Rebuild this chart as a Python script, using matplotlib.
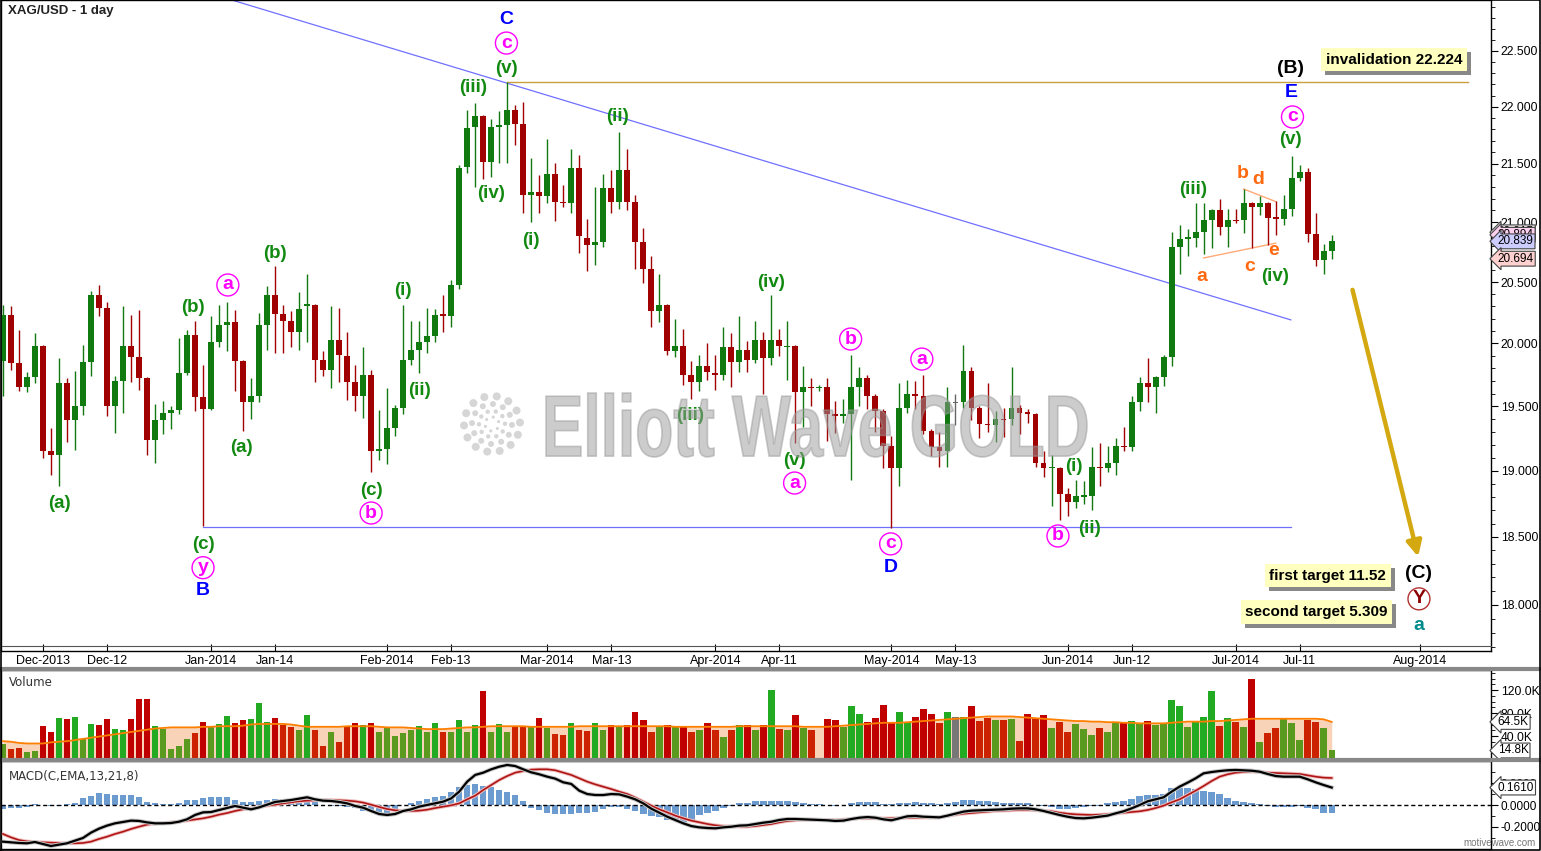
import numpy as np
import pandas as pd
import matplotlib
matplotlib.use("Agg")
import matplotlib.pyplot as plt
import matplotlib.patheffects as pe
from matplotlib.patches import PathPatch, Circle, Rectangle
from matplotlib.lines import Line2D
from matplotlib.textpath import TextPath
from matplotlib.font_manager import FontProperties
from matplotlib.transforms import Affine2D, IdentityTransform, blended_transform_factory
from matplotlib.ticker import FixedLocator, FixedFormatter, NullFormatter

plt.rcParams['font.family'] = ['Liberation Sans', 'DejaVu Sans']

# trading days (holidays 25 Dec / 1 Jan are missing in the feed)
days = pd.bdate_range('2013-11-25', '2014-08-29')
days = days[~days.isin(pd.to_datetime(['2013-12-25', '2014-01-01']))]

opens = [19.86, 20.23, 19.84, 19.65, 19.73, 19.98, 19.15, 19.12, 19.68, 19.39,
 19.50, 19.85, 20.39, 20.29, 19.50, 19.70, 19.98, 19.89, 19.72, 19.24,
 19.39, 19.45, 19.47, 19.76, 20.07, 19.57, 19.48, 20.01, 20.15, 20.17,
 19.86, 19.53, 19.58, 20.15, 20.39, 20.24, 20.18, 20.09, 20.30, 20.31,
 19.87, 19.79, 20.03, 19.90, 19.69, 19.58, 19.75, 19.15, 19.17, 19.33,
 19.49, 19.87, 19.95, 20.01, 20.06, 20.24, 20.22, 20.48, 21.47, 21.82,
 21.92, 21.52, 21.82, 21.84, 21.97, 21.85, 21.23, 21.26, 21.22, 21.41,
 21.17, 21.16, 21.46, 20.87, 20.81, 20.83, 21.29, 21.17, 21.45, 21.17,
 20.83, 20.61, 20.26, 20.31, 19.94, 19.98, 19.75, 19.69, 19.82, 19.76,
 19.75, 19.97, 19.85, 19.95, 19.87, 20.03, 19.88, 20.03, 19.97, 19.98,
 19.61, 19.65, 19.64, 19.65, 19.44, 19.42, 19.44, 19.65, 19.72, 19.58,
 19.46, 19.19, 19.02, 19.49, 19.60, 19.58, 19.31, 19.18, 19.15, 19.525,
 19.53, 19.78, 19.49, 19.36, 19.35, 19.40, 19.40, 19.49, 19.45, 19.44,
 19.06, 19.02, 19.02, 18.82, 18.76, 18.80, 18.81, 19.03, 19.02, 19.06,
 19.19, 19.18, 19.53, 19.68, 19.65, 19.73, 19.89, 20.79, 20.86, 20.87,
 20.92, 21.02, 21.10, 20.96, 21.02, 21.02, 21.16, 21.13, 21.16, 21.04,
 21.03, 21.11, 21.38, 21.43, 20.90, 20.68, 20.76]
highs = [20.31, 20.30, 20.11, 19.77, 20.08, 19.99, 19.33, 19.88, 19.72, 19.78,
 19.99, 20.43, 20.48, 20.34, 19.74, 20.30, 20.23, 20.27, 19.73, 19.52,
 19.54, 19.50, 20.04, 20.11, 20.18, 19.83, 20.22, 20.31, 20.34, 20.27,
 19.87, 19.72, 20.25, 20.47, 20.63, 20.31, 20.26, 20.42, 20.57, 20.32,
 19.94, 20.30, 20.29, 20.09, 19.83, 19.97, 19.79, 19.47, 19.64, 19.51,
 20.31, 20.18, 20.18, 20.29, 20.28, 20.39, 20.52, 21.49, 21.97, 22.03,
 21.93, 21.89, 21.96, 22.224, 22.02, 22.04, 21.55, 21.40, 21.72, 21.51,
 21.32, 21.63, 21.58, 21.03, 21.30, 21.41, 21.45, 21.78, 21.63, 21.23,
 20.95, 20.72, 20.57, 20.32, 20.20, 20.12, 19.86, 19.91, 20.00, 19.91,
 20.13, 20.08, 20.22, 20.02, 20.18, 20.09, 20.39, 20.12, 20.18, 19.99,
 19.82, 19.72, 19.67, 19.72, 19.54, 19.56, 19.91, 19.81, 19.75, 19.60,
 19.48, 19.27, 19.68, 19.71, 19.70, 19.75, 19.32, 19.30, 19.65, 19.60,
 19.99, 19.81, 19.50, 19.68, 19.46, 19.49, 19.81, 19.51, 19.48, 19.45,
 19.15, 19.12, 19.03, 18.87, 18.93, 18.92, 19.18, 19.21, 19.19, 19.25,
 19.34, 19.58, 19.73, 19.88, 19.74, 19.91, 20.92, 20.98, 20.94, 21.16,
 21.16, 21.11, 21.20, 21.11, 21.11, 21.28, 21.17, 21.22, 21.17, 21.18,
 21.23, 21.57, 21.49, 21.46, 21.08, 20.82, 20.894]
lows = [19.58, 19.79, 19.62, 19.61, 19.68, 19.10, 18.97, 18.88, 19.22, 19.16,
 19.43, 19.74, 20.22, 19.42, 19.29, 19.45, 19.69, 19.63, 19.12, 19.06,
 19.28, 19.32, 19.44, 19.75, 19.46, 18.58, 19.47, 19.97, 19.94, 19.62,
 19.31, 19.40, 19.53, 19.95, 19.92, 19.92, 19.97, 19.95, 20.01, 19.69,
 19.74, 19.64, 19.69, 19.55, 19.46, 19.41, 18.99, 19.08, 19.05, 19.27,
 19.44, 19.83, 19.76, 19.92, 20.01, 20.09, 20.13, 20.44, 21.42, 21.30,
 21.37, 21.39, 21.51, 21.51, 21.66, 21.08, 21.00, 21.08, 21.16, 21.01,
 21.13, 21.08, 20.74, 20.59, 20.64, 20.79, 21.08, 21.11, 21.10, 20.61,
 20.49, 20.13, 20.17, 19.91, 19.89, 19.67, 19.56, 19.62, 19.71, 19.63,
 19.71, 19.65, 19.77, 19.77, 19.84, 19.60, 19.83, 19.90, 19.71, 19.21,
 19.34, 19.50, 19.62, 19.23, 19.29, 19.37, 18.93, 19.50, 19.48, 19.30,
 19.02, 18.57, 18.88, 19.45, 19.48, 19.28, 19.11, 19.03, 19.03, 19.35,
 19.49, 19.39, 19.25, 19.30, 19.22, 19.26, 19.35, 19.28, 19.37, 19.03,
 18.95, 18.73, 18.63, 18.66, 18.72, 18.75, 18.70, 18.88, 18.99, 18.97,
 19.15, 19.15, 19.46, 19.53, 19.45, 19.66, 19.82, 20.57, 20.72, 20.79,
 20.73, 20.78, 20.89, 20.79, 20.99, 20.91, 20.78, 21.06, 20.81, 20.89,
 20.98, 21.05, 21.35, 20.83, 20.63, 20.57, 20.694]
closes = [20.23, 19.84, 19.65, 19.73, 19.98, 19.15, 19.12, 19.68, 19.39, 19.50,
 19.85, 20.39, 20.29, 19.50, 19.70, 19.98, 19.89, 19.72, 19.24, 19.39,
 19.45, 19.47, 19.76, 20.07, 19.57, 19.48, 20.01, 20.15, 20.17, 19.86,
 19.53, 19.58, 20.15, 20.39, 20.24, 20.18, 20.09, 20.28, 20.32, 19.87,
 19.79, 20.03, 19.91, 19.69, 19.58, 19.75, 19.15, 19.17, 19.33, 19.49,
 19.87, 19.95, 20.01, 20.06, 20.23, 20.22, 20.48, 21.46, 21.81, 21.92,
 21.52, 21.82, 21.84, 21.97, 21.85, 21.23, 21.26, 21.22, 21.41, 21.17,
 21.16, 21.46, 20.88, 20.81, 20.83, 21.29, 21.17, 21.45, 21.17, 20.83,
 20.61, 20.26, 20.31, 19.94, 19.98, 19.75, 19.69, 19.82, 19.77, 19.75,
 19.97, 19.85, 19.95, 19.87, 20.03, 19.88, 20.03, 19.98, 19.98, 19.61,
 19.65, 19.64, 19.65, 19.44, 19.42, 19.44, 19.65, 19.72, 19.58, 19.46,
 19.19, 19.02, 19.49, 19.60, 19.58, 19.31, 19.18, 19.15, 19.53, 19.525,
 19.78, 19.49, 19.36, 19.35, 19.40, 19.39, 19.49, 19.45, 19.44, 19.06,
 19.02, 19.03, 18.82, 18.76, 18.81, 18.81, 19.03, 19.02, 19.06, 19.19,
 19.18, 19.53, 19.68, 19.65, 19.73, 19.89, 20.79, 20.86, 20.87, 20.92,
 21.02, 21.10, 20.96, 21.02, 21.01, 21.16, 21.13, 21.16, 21.04, 21.03,
 21.11, 21.38, 21.43, 20.90, 20.68, 20.76, 20.839]

# volume in thousands
volume = [26, 17, 20, 12, 14, 57, 47, 71, 70, 73, 34, 61, 59, 70, 53, 50, 70, 104, 104,
 57, 52, 17, 23, 34, 46, 64, 55, 61, 75, 62, 67, 70, 97, 65, 71, 60, 56, 50, 77, 51, 23,
 47, 30, 57, 63, 59, 63, 47, 54, 40, 45, 50, 57, 47, 63, 47, 47, 68, 47, 59, 118,
 47, 61, 47, 57, 57, 56, 71, 54, 43, 42, 63, 50, 49, 63, 50, 59, 55, 59, 82, 68, 47,
 56, 59, 56, 57, 47, 50, 63, 50, 38, 50, 59, 59,
 50, 60, 120, 52, 50, 77, 54, 50, 2, 70, 68, 56, 92, 78, 64, 71, 94, 64, 82, 65,
 73, 87, 78, 63, 82, 73, 73, 92, 66, 71, 68, 68, 70, 32, 78, 71, 77, 54, 64, 47,
 61, 52, 42, 54, 47, 63, 65, 66, 61, 66, 60, 62, 103, 92, 56, 66, 73, 118, 57, 71,
 65, 56, 139, 30, 46, 54, 70, 63, 33, 68, 64, 54, 14.8]
vol_avg = [31, 30, 28, 27, 27, 27, 29, 30, 31, 33, 35, 37, 39, 41, 43, 45, 47, 49, 51, 53,
 54, 55, 55, 55, 55, 56, 56, 57, 57, 57, 58, 60, 61, 61, 61, 61, 60, 58, 56, 56,
 56, 56, 56, 57, 57, 57, 57, 56, 55, 55, 55, 54, 53, 52, 52, 52, 53, 54, 55, 55,
 56, 57, 57, 57, 57, 57, 56, 56, 56, 56, 56, 56, 57, 57, 57, 57, 57, 57, 57, 57,
 57, 57, 57, 57, 56, 56, 56, 56, 56, 56, 56, 56, 57, 57, 57, 57, 57, 57, 57, 57,
 56, 56, 56, 56, 57, 58, 59, 60, 61, 62, 63, 63, 63, 64, 65, 66, 67, 68, 69, 70,
 71, 72, 73, 74, 74, 74, 74, 73, 72, 71, 70, 69, 68, 67, 66, 66, 65, 65, 64, 64,
 63, 63, 62, 62, 62, 62, 63, 64, 65, 65, 65, 66, 66, 67, 68, 69, 70, 70, 70, 70,
 70, 70, 70, 70, 70, 69, 64.5]

macd = [-0.338, -0.344, -0.350, -0.353, -0.341, -0.359, -0.378, -0.366, -0.353, -0.329,
 -0.304, -0.255, -0.218, -0.190, -0.169, -0.157, -0.144, -0.147, -0.160, -0.169,
 -0.169, -0.166, -0.154, -0.132, -0.092, -0.068, -0.065, -0.046, -0.028, -0.009,
 -0.025, -0.040, -0.022, 0.003, 0.028, 0.037, 0.046, 0.058, 0.071, 0.052,
 0.040, 0.037, 0.028, 0.015, -0.009, -0.025, -0.055, -0.083, -0.092, -0.083,
 -0.055, -0.040, -0.015, 0.0, 0.015, 0.031, 0.061, 0.123, 0.215, 0.277,
 0.298, 0.329, 0.353, 0.369, 0.359, 0.329, 0.301, 0.283, 0.261, 0.243,
 0.209, 0.194, 0.132, 0.101, 0.092, 0.092, 0.101, 0.098, 0.077, 0.052,
 0.015, -0.034, -0.071, -0.108, -0.138, -0.169, -0.194, -0.206, -0.212, -0.215,
 -0.206, -0.200, -0.190, -0.187, -0.175, -0.163, -0.154, -0.138, -0.129, -0.129,
 -0.132, -0.135, -0.138, -0.141, -0.147, -0.144, -0.129, -0.117, -0.111, -0.117,
 -0.132, -0.141, -0.123, -0.104, -0.101, -0.108, -0.111, -0.114, -0.098, -0.080,
 -0.061, -0.052, -0.049, -0.046, -0.043, -0.040, -0.034, -0.031, -0.031, -0.040,
 -0.055, -0.074, -0.092, -0.108, -0.120, -0.123, -0.117, -0.108, -0.098, -0.077,
 -0.058, -0.031, 0.0, 0.034, 0.052, 0.071, 0.123, 0.169, 0.206, 0.246,
 0.292, 0.304, 0.313, 0.320, 0.323, 0.320, 0.316, 0.307, 0.286, 0.267,
 0.261, 0.261, 0.261, 0.237, 0.209, 0.184, 0.161]
signal = [-0.267, -0.298, -0.323, -0.335, -0.341, -0.344, -0.347, -0.350, -0.353, -0.353,
 -0.350, -0.338, -0.313, -0.292, -0.267, -0.246, -0.221, -0.200, -0.181, -0.172,
 -0.166, -0.160, -0.154, -0.144, -0.135, -0.123, -0.108, -0.089, -0.074, -0.055,
 -0.040, -0.031, -0.018, -0.006, 0.003, 0.015, 0.025, 0.034, 0.040, 0.043,
 0.046, 0.046, 0.043, 0.040, 0.034, 0.022, 0.003, -0.018, -0.037, -0.049,
 -0.055, -0.055, -0.052, -0.043, -0.028, -0.015, -0.003, 0.015, 0.052, 0.086,
 0.138, 0.184, 0.230, 0.267, 0.298, 0.313, 0.326, 0.329, 0.329, 0.320,
 0.298, 0.277, 0.246, 0.215, 0.190, 0.169, 0.147, 0.123, 0.101, 0.068,
 0.031, -0.006, -0.040, -0.068, -0.098, -0.123, -0.144, -0.160, -0.175, -0.187,
 -0.194, -0.197, -0.200, -0.200, -0.194, -0.184, -0.175, -0.160, -0.147, -0.141,
 -0.135, -0.135, -0.135, -0.138, -0.138, -0.135, -0.129, -0.123, -0.123, -0.123,
 -0.123, -0.123, -0.120, -0.117, -0.117, -0.117, -0.117, -0.114, -0.101, -0.089,
 -0.080, -0.074, -0.068, -0.061, -0.055, -0.052, -0.049, -0.046, -0.046, -0.049,
 -0.052, -0.058, -0.071, -0.080, -0.086, -0.089, -0.092, -0.089, -0.086, -0.080,
 -0.071, -0.065, -0.058, -0.046, -0.028, -0.006, 0.025, 0.052, 0.092, 0.132,
 0.175, 0.221, 0.261, 0.283, 0.298, 0.304, 0.307, 0.304, 0.298, 0.295,
 0.292, 0.289, 0.286, 0.273, 0.261, 0.252, 0.249]
hist = [-0.040, -0.025, -0.025, -0.015, 0.006, 0.0, -0.006, -0.012, 0.006, 0.022,
 0.061, 0.083, 0.108, 0.098, 0.092, 0.092, 0.089, 0.077, 0.031, 0.018,
 0.012, 0.009, 0.022, 0.049, 0.046, 0.065, 0.074, 0.077, 0.071, 0.046,
 0.028, 0.025, 0.034, 0.049, 0.052, 0.052, 0.058, 0.055, 0.046, 0.031,
 -0.003, -0.006, -0.012, -0.022, -0.031, -0.055, -0.065, -0.074, -0.071, -0.046,
 -0.003, 0.022, 0.034, 0.052, 0.074, 0.083, 0.123, 0.169, 0.187, 0.194,
 0.178, 0.163, 0.138, 0.117, 0.095, 0.037, -0.025, -0.046, -0.071, -0.086,
 -0.086, -0.080, -0.077, -0.074, -0.061, -0.037, -0.018, -0.022, -0.034, -0.052,
 -0.083, -0.101, -0.111, -0.135, -0.150, -0.154, -0.147, -0.092, -0.077, -0.052,
 -0.025, -0.006, 0.015, 0.022, 0.040, 0.040, 0.040, 0.040, 0.037, 0.025,
 0.015, 0.009, 0.006, 0.003, -0.006, 0.0, 0.015, 0.025, 0.025, 0.025,
 0.009, 0.006, 0.015, 0.022, 0.025, 0.022, 0.015, 0.009, 0.018, 0.031,
 0.043, 0.046, 0.040, 0.034, 0.028, 0.022, 0.018, 0.018, 0.022, 0.0,
 -0.012, -0.022, -0.034, -0.040, -0.031, -0.018, -0.009, -0.006, 0.015, 0.031,
 0.040, 0.058, 0.080, 0.089, 0.092, 0.101, 0.160, 0.160, 0.157, 0.144,
 0.132, 0.120, 0.101, 0.065, 0.040, 0.028, 0.022, 0.009, -0.009, -0.022,
 -0.018, -0.015, -0.006, -0.025, -0.040, -0.071, -0.071]

date_ticks = ['2013-12-02', '2013-12-12', '2014-01-02', '2014-01-14', '2014-02-03', '2014-02-13',
              '2014-03-03', '2014-03-13', '2014-04-01', '2014-04-11', '2014-05-01', '2014-05-13',
              '2014-06-02', '2014-06-12', '2014-07-01', '2014-07-11', '2014-08-01']
date_labels = ['Dec-2013', 'Dec-12', 'Jan-2014', 'Jan-14', 'Feb-2014', 'Feb-13', 'Mar-2014', 'Mar-13',
               'Apr-2014', 'Apr-11', 'May-2014', 'May-13', 'Jun-2014', 'Jun-12', 'Jul-2014', 'Jul-11', 'Aug-2014']
price_ticks = [18.0, 18.5, 19.0, 19.5, 20.0, 20.5, 21.0, 21.5, 22.0, 22.5]

# wave labels: text, bar index, price, style
waves = [
    ('(a)', 7.0, 18.754, 'g'), ('(b)', 23.8, 20.295, 'g'), ('(a)', 29.8, 19.182, 'g'),
    ('(b)', 34.0, 20.741, 'g'), ('(c)', 46.0, 18.852, 'g'), ('(i)', 50.0, 20.427, 'g'),
    ('(ii)', 52.0, 19.620, 'g'), ('(iii)', 58.8, 22.168, 'g'), ('(iv)', 61.0, 21.249, 'g'),
    ('(v)', 62.9, 22.346, 'g'), ('(i)', 65.9, 20.850, 'g'), ('(ii)', 76.8, 21.91, 'g'),
    ('(iii)', 85.9, 19.431, 'g'), ('(iv)', 95.9, 20.50, 'g'), ('(v)', 98.9, 19.082, 'g'),
    ('(c)', 25.0, 18.441, 'g'), ('(i)', 133.8, 19.036, 'g'), ('(ii)', 135.8, 18.566, 'g'),
    ('(iii)', 148.7, 21.283, 'g'), ('(iv)', 158.9, 20.55, 'g'), ('(v)', 160.8, 21.708, 'g'),
    ('a', 28.1, 20.476, 'm'), ('b', 46.0, 18.679, 'm'), ('y', 25.0, 18.272, 'm'),
    ('c', 62.9, 22.572, 'm'), ('a', 98.9, 18.906, 'm'), ('b', 105.9, 20.035, 'm'),
    ('c', 110.9, 18.448, 'm'), ('a', 114.8, 19.874, 'm'), ('b', 131.8, 18.507, 'm'),
    ('c', 161.1, 21.91, 'm'),
    ('C', 62.9, 22.79, 'bl'), ('B', 25.0, 18.103, 'bl'), ('D', 110.9, 18.272, 'bl'),
    ('E', 160.9, 22.124, 'bl'),
    ('(B)', 160.8, 22.346, 'k'), ('(C)', 176.9, 18.228, 'k'), ('Y', 176.9, 18.044, 'r'),
    ('a', 176.9, 17.848, 't'),
    ('a', 149.8, 20.55, 'o'), ('b', 154.9, 21.413, 'o'), ('d', 156.8, 21.367, 'o'),
    ('c', 155.7, 20.633, 'o'), ('e', 158.7, 20.761, 'o'),
]
styles = {'g': ('#128a12', False), 'm': ('#ff00ff', True), 'bl': ('#0000ff', False),
          'k': ('#000000', False), 'r': ('#8b0000', True), 't': ('#008b8b', False),
          'o': ('#ff6a10', False)}

notes = [('invalidation 22.224', 173.8, 22.42), ('first target 11.52', 165.5, 18.213),
         ('second target 5.309', 164.1, 17.949)]

trend_upper = ([20, 160.9], [23.16, 20.19])
support = ([25, 160.9], [18.575, 18.575])
invalid = ([63, 183.0], [22.224, 22.224])
tri_lower = ([150, 159], [20.70, 20.824])
tri_upper = ([155, 159], [21.283, 21.176])
arrow_from, arrow_to = (168.6, 20.436), (176.8, 18.353)

W, H = 1541, 851
fig = plt.figure(figsize=(W / 100, H / 100), dpi=100)
fig.patch.set_facecolor('white')

def fbox(x0, y0, x1, y1):
    return [x0 / W, 1 - y1 / H, (x1 - x0) / W, (y1 - y0) / H]

ax = fig.add_axes(fbox(1, 0, 1491, 651))
axv = fig.add_axes(fbox(1, 670, 1491, 759))
axm = fig.add_axes(fbox(1, 761, 1491, 849))

x = np.arange(len(closes))
o, h, l, c = map(np.array, (opens, highs, lows, closes))
up, dn, flat = '#107a10', '#a00000', '#666666'
cc = np.where(c > o, up, np.where(c < o, dn, flat))

ax.set_yscale('log')
ax.set_xlim(-0.24, 185.9)
ax.set_ylim(17.669, 22.967)
ax.vlines(x, l, h, colors=cc, lw=1, zorder=3)
body = np.maximum(np.abs(c - o), 0.012)
ax.bar(x, body, bottom=np.minimum(o, c), width=0.74, color=cc, zorder=4)

ax.plot(*trend_upper, color='#7070ff', lw=0.9, zorder=2)
ax.plot(*support, color='#7070ff', lw=0.9, zorder=2)
ax.plot(*invalid, color='#c8a040', lw=1.0, zorder=2)
ax.plot(*tri_lower, color='#ffaa77', lw=1.0, zorder=2)
ax.plot(*tri_upper, color='#ffaa77', lw=1.0, zorder=2)
ax.annotate('', xy=arrow_to, xytext=arrow_from,
            arrowprops=dict(arrowstyle='-|>,head_width=0.45,head_length=0.9', color='#d4a810', lw=3.2,
                            shrinkA=0, shrinkB=0), zorder=5)

for txt, xi, p, st in waves:
    col, circ = styles[st]
    fs = 13.5 if st == 'g' else 14
    ax.text(xi, p, txt, color=col, fontsize=fs, fontweight='bold', ha='center', va='center', zorder=6)
    if circ:
        ax.scatter([xi], [p], s=250, facecolors='none', edgecolors=col if st == 'm' else '#b03030',
                   linewidths=1.0, zorder=6)

note_texts = [ax.text(xi, p, txt, ha='center', va='center', fontsize=11, fontweight='bold', color='black',
                      bbox=dict(boxstyle='square,pad=0.3', fc='#ffffc0', ec='none'), zorder=8)
              for txt, xi, p in notes]

ax.yaxis.set_major_locator(FixedLocator(price_ticks))
ax.yaxis.set_major_formatter(FixedFormatter(['%.3f' % t for t in price_ticks]))
ax.yaxis.set_minor_locator(FixedLocator([v / 10 for v in range(177, 230) if v % 5]))
ax.yaxis.set_minor_formatter(NullFormatter())
ax.yaxis.tick_right()
ax.tick_params(axis='y', which='major', direction='out', length=5, labelsize=8.7, pad=2)
ax.tick_params(axis='y', which='minor', direction='out', length=3)
tick_pos = days.get_indexer(pd.to_datetime(date_ticks))
ax.set_xticks(tick_pos)
ax.set_xticklabels(date_labels)
ax.tick_params(axis='x', direction='in', length=5, labelsize=9, pad=3)
ax.text(0.005, 0.992, 'XAG/USD - 1 day', transform=ax.transAxes, fontsize=9.5, fontweight='bold',
        color='#222222', ha='left', va='top')

def tag(axis, val, txt, fc):
    tr = blended_transform_factory(axis.transAxes, axis.transData)
    axis.text(1.0045, val, txt, transform=tr, ha='left', va='center', fontsize=8.5, color='black',
              bbox=dict(boxstyle='larrow,pad=0.12', fc=fc, ec='#444444', lw=0.8), clip_on=False, zorder=10)

tag(ax, 20.915, '20.915', '#eeeeee')
tag(ax, 20.894, '20.894', '#ffd0f0')
tag(ax, 20.839, '20.839', '#ccccff')
tag(ax, 20.694, '20.694', '#ffd0d0')

# volume panel
va_arr = np.array(vol_avg)
v_arr = np.array(volume)
vcol = []
for i in range(len(v_arr)):
    if c[i] > o[i]:
        vcol.append('#22aa22' if v_arr[i] > va_arr[i] else '#5a9a1e')
    elif c[i] < o[i]:
        vcol.append('#c00000' if v_arr[i] > va_arr[i] else '#cc2200')
    else:
        vcol.append('#777777')
axv.fill_between(x, 0, vol_avg, color='#f9d3b8', lw=0, zorder=1)
axv.bar(x, volume, width=0.8, color=vcol, zorder=2)
axv.plot(x, vol_avg, color='#ff7f00', lw=1.3, zorder=3)
axv.set_xlim(-0.24, 185.9)
axv.set_ylim(0, 154.8)
axv.set_xticks([])
axv.yaxis.tick_right()
axv.set_yticks([40, 80, 120])
axv.set_yticklabels(['40.0K', '80.0K', '120.0K'])
axv.yaxis.set_minor_locator(FixedLocator([10, 20, 30, 50, 60, 70, 90, 100, 110, 130, 140, 150]))
axv.tick_params(axis='y', which='major', direction='out', length=5, labelsize=8.7, pad=2)
axv.tick_params(axis='y', which='minor', direction='out', length=3)
axv.text(0.005, 0.93, 'Volume', transform=axv.transAxes, fontsize=8.5, family='DejaVu Sans',
         color='#333333', ha='left', va='top')
tag(axv, 64.5, '64.5K', 'white')
tag(axv, 14.8, '14.8K', 'white')

# MACD panel
axm.bar(x, hist, width=0.8, color='#6c9bd0', zorder=1)
axm.axhline(0, color='black', lw=1, ls=(0, (3, 2)), zorder=2)
axm.plot(x, signal, color='#b01515', lw=1.2, zorder=3,
         path_effects=[pe.Stroke(linewidth=2.6, foreground='#f0c0c0'), pe.Normal()])
axm.plot(x, macd, color='black', lw=1.6, zorder=4,
         path_effects=[pe.Stroke(linewidth=3.0, foreground='#c8c8c8'), pe.Normal()])
axm.set_xlim(-0.24, 185.9)
axm.set_ylim(-0.4055, 0.4055)
axm.set_xticks([])
axm.yaxis.tick_right()
axm.set_yticks([-0.2, 0.0, 0.2])
axm.set_yticklabels(['-0.2000', '0.0000', '0.2000'])
axm.yaxis.set_minor_locator(FixedLocator([-0.3, -0.1, 0.1, 0.3]))
axm.tick_params(axis='y', which='major', direction='out', length=5, labelsize=8.5, pad=1.5)
axm.tick_params(axis='y', which='minor', direction='out', length=3)
axm.text(0.005, 0.9, 'MACD(C,EMA,13,21,8)', transform=axm.transAxes, fontsize=8.5, family='DejaVu Sans',
         color='#333333', ha='left', va='top')
tag(axm, 0.161, '0.1610', 'white')

for a in (ax, axv, axm):
    for s in a.spines.values():
        s.set_color('black')
        s.set_linewidth(1)

# drop shadows behind the yellow notes (plain grey boxes, offset down-right)
fig.canvas.draw()
rend = fig.canvas.get_renderer()
for t in note_texts:
    bb = t.get_bbox_patch().get_window_extent(rend)
    ax.add_patch(Rectangle((bb.x0 + 4, bb.y0 - 4), bb.width, bb.height, transform=IdentityTransform(),
                           fc='#888888', ec='none', zorder=7))

# panel separators, date strip line and outer frame
fig.add_artist(Line2D([0, 1], [1 - 668.5 / H] * 2, color='#888888', lw=3))
fig.add_artist(Line2D([0, 1], [1 - 760 / H] * 2, color='#888888', lw=3))
fig.add_artist(Line2D([1 / W, 1491 / W], [1 - 646 / H] * 2, color='#555555', lw=0.8))
fig.add_artist(Line2D([0.0005, 0.0005, 0.9995, 0.9995, 0.0005], [0.0008, 0.9995, 0.9995, 0.0008, 0.0008],
                      color='black', lw=1.2))
fig.text(1536 / W, 1 - 843 / H, 'motivewave.com', fontsize=7, color='#777777', ha='right', va='center')

# watermark: heavy text squeezed into its box, plus the dotted spiral logo
fp = FontProperties(family=['Liberation Sans', 'DejaVu Sans'], weight='bold')
tp = TextPath((0, 0), 'Elliott Wave GOLD', size=100, prop=fp)
ext = tp.get_extents()
wm = Affine2D().translate(-ext.x0, -ext.y0).scale(541 / ext.width, 64 / ext.height).translate(546, H - 457)
fig.add_artist(PathPatch(tp, transform=wm, fc='#9a9a9a', ec='#9a9a9a', lw=1.2, alpha=0.5, zorder=20))
cx, cy = 492, H - 424
for rad, n, r in ((28, 14, 4.0), (20, 12, 3.0), (13, 10, 2.2), (7, 6, 1.6)):
    for k in range(n):
        t = 2 * np.pi * k / n + rad * 0.05
        fig.add_artist(Circle((cx + rad * np.cos(t), cy + rad * np.sin(t)), r, transform=IdentityTransform(),
                              fc='#bbbbbb', ec='none', alpha=0.6, zorder=20))

fig.savefig('out.png', dpi=100)
